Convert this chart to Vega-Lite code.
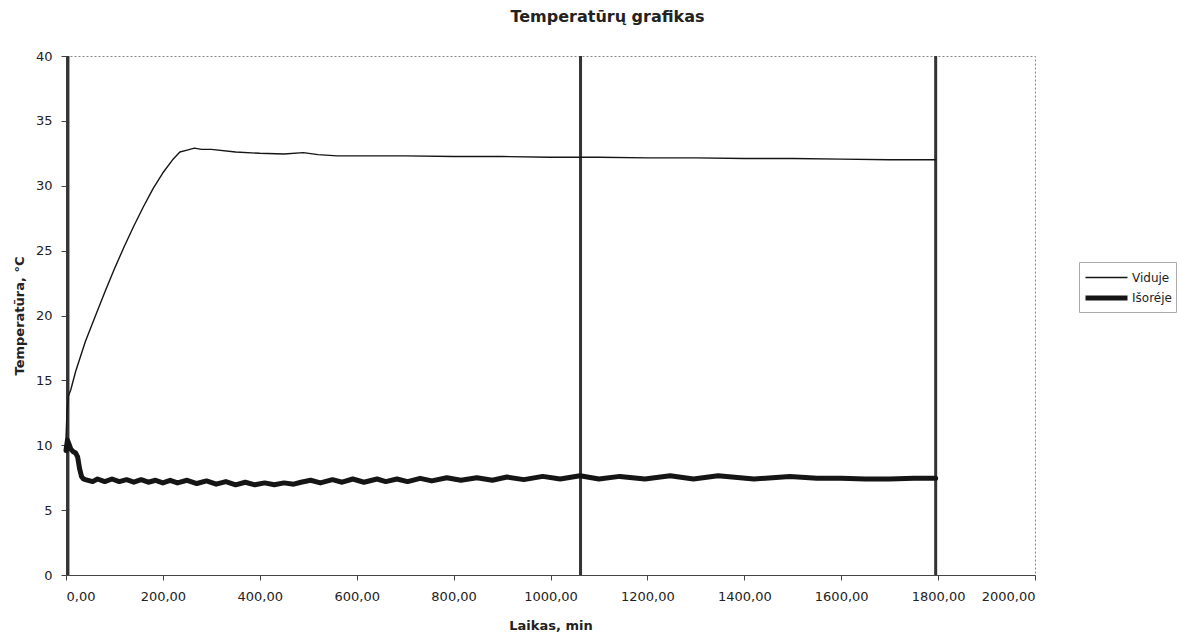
{
  "$schema": "https://vega.github.io/schema/vega-lite/v6.json",
  "autosize": {"type": "none"},
  "padding": {"left": 66, "top": 56, "right": 145, "bottom": 59},
  "width": 969,
  "height": 519,
  "background": "white",
  "config": {
    "font": "DejaVu Sans",
    "view": {"stroke": "#888", "strokeDash": [2, 2], "strokeWidth": 1},
    "axis": {
      "grid": false,
      "domainColor": "#444",
      "tickColor": "#444",
      "tickSize": 5,
      "labelFont": "DejaVu Sans",
      "labelFontSize": 13,
      "labelColor": "#222",
      "titleFont": "DejaVu Sans",
      "titleFontSize": 13,
      "titleFontWeight": "bold",
      "titleColor": "#222"
    }
  },
  "title": {
    "text": "Temperatūrų grafikas",
    "font": "DejaVu Sans",
    "fontSize": 16,
    "fontWeight": "bold",
    "color": "#222",
    "anchor": "middle",
    "dx": 57,
    "offset": 25
  },
  "datasets": {
    "temps": [
      {"series": "Viduje", "t": 0, "v": 10.5},
      {"series": "Viduje", "t": 2, "v": 12.5},
      {"series": "Viduje", "t": 5, "v": 13.8},
      {"series": "Viduje", "t": 10, "v": 14.3},
      {"series": "Viduje", "t": 20, "v": 15.7},
      {"series": "Viduje", "t": 40, "v": 18.0},
      {"series": "Viduje", "t": 60, "v": 19.9},
      {"series": "Viduje", "t": 80, "v": 21.8},
      {"series": "Viduje", "t": 100, "v": 23.6},
      {"series": "Viduje", "t": 120, "v": 25.3},
      {"series": "Viduje", "t": 140, "v": 26.9},
      {"series": "Viduje", "t": 160, "v": 28.4},
      {"series": "Viduje", "t": 180, "v": 29.8},
      {"series": "Viduje", "t": 200, "v": 31.0},
      {"series": "Viduje", "t": 220, "v": 32.0},
      {"series": "Viduje", "t": 235, "v": 32.6},
      {"series": "Viduje", "t": 250, "v": 32.75},
      {"series": "Viduje", "t": 265, "v": 32.9},
      {"series": "Viduje", "t": 280, "v": 32.8},
      {"series": "Viduje", "t": 300, "v": 32.8},
      {"series": "Viduje", "t": 350, "v": 32.6},
      {"series": "Viduje", "t": 400, "v": 32.5},
      {"series": "Viduje", "t": 450, "v": 32.45},
      {"series": "Viduje", "t": 490, "v": 32.55},
      {"series": "Viduje", "t": 520, "v": 32.4},
      {"series": "Viduje", "t": 560, "v": 32.3},
      {"series": "Viduje", "t": 600, "v": 32.3},
      {"series": "Viduje", "t": 700, "v": 32.3},
      {"series": "Viduje", "t": 800, "v": 32.25},
      {"series": "Viduje", "t": 900, "v": 32.25},
      {"series": "Viduje", "t": 1000, "v": 32.2},
      {"series": "Viduje", "t": 1060, "v": 32.2},
      {"series": "Viduje", "t": 1100, "v": 32.2},
      {"series": "Viduje", "t": 1200, "v": 32.15},
      {"series": "Viduje", "t": 1300, "v": 32.15},
      {"series": "Viduje", "t": 1400, "v": 32.1},
      {"series": "Viduje", "t": 1500, "v": 32.1},
      {"series": "Viduje", "t": 1600, "v": 32.05},
      {"series": "Viduje", "t": 1700, "v": 32.0},
      {"series": "Viduje", "t": 1795, "v": 32.0},
      {"series": "Išoréje", "t": 0, "v": 9.6},
      {"series": "Išoréje", "t": 3, "v": 10.4},
      {"series": "Išoréje", "t": 6, "v": 10.1},
      {"series": "Išoréje", "t": 10, "v": 9.7},
      {"series": "Išoréje", "t": 15, "v": 9.5},
      {"series": "Išoréje", "t": 20, "v": 9.4},
      {"series": "Išoréje", "t": 24, "v": 9.1},
      {"series": "Išoréje", "t": 28, "v": 8.2},
      {"series": "Išoréje", "t": 32, "v": 7.6},
      {"series": "Išoréje", "t": 36, "v": 7.4},
      {"series": "Išoréje", "t": 40, "v": 7.35},
      {"series": "Išoréje", "t": 55, "v": 7.2},
      {"series": "Išoréje", "t": 65, "v": 7.4},
      {"series": "Išoréje", "t": 80, "v": 7.2},
      {"series": "Išoréje", "t": 95, "v": 7.4},
      {"series": "Išoréje", "t": 110, "v": 7.2},
      {"series": "Išoréje", "t": 125, "v": 7.35},
      {"series": "Išoréje", "t": 140, "v": 7.15},
      {"series": "Išoréje", "t": 155, "v": 7.35},
      {"series": "Išoréje", "t": 170, "v": 7.15},
      {"series": "Išoréje", "t": 185, "v": 7.3},
      {"series": "Išoréje", "t": 200, "v": 7.1},
      {"series": "Išoréje", "t": 215, "v": 7.3},
      {"series": "Išoréje", "t": 230, "v": 7.1},
      {"series": "Išoréje", "t": 250, "v": 7.3},
      {"series": "Išoréje", "t": 270, "v": 7.05},
      {"series": "Išoréje", "t": 290, "v": 7.25},
      {"series": "Išoréje", "t": 310, "v": 7.0},
      {"series": "Išoréje", "t": 330, "v": 7.2},
      {"series": "Išoréje", "t": 350, "v": 6.95},
      {"series": "Išoréje", "t": 370, "v": 7.15},
      {"series": "Išoréje", "t": 390, "v": 6.95},
      {"series": "Išoréje", "t": 410, "v": 7.1},
      {"series": "Išoréje", "t": 430, "v": 6.95},
      {"series": "Išoréje", "t": 450, "v": 7.1},
      {"series": "Išoréje", "t": 470, "v": 7.0},
      {"series": "Išoréje", "t": 485, "v": 7.15},
      {"series": "Išoréje", "t": 505, "v": 7.3},
      {"series": "Išoréje", "t": 525, "v": 7.1},
      {"series": "Išoréje", "t": 550, "v": 7.35},
      {"series": "Išoréje", "t": 570, "v": 7.15},
      {"series": "Išoréje", "t": 592, "v": 7.4},
      {"series": "Išoréje", "t": 615, "v": 7.15},
      {"series": "Išoréje", "t": 642, "v": 7.4},
      {"series": "Išoréje", "t": 660, "v": 7.2},
      {"series": "Išoréje", "t": 683, "v": 7.4},
      {"series": "Išoréje", "t": 705, "v": 7.2},
      {"series": "Išoréje", "t": 731, "v": 7.45},
      {"series": "Išoréje", "t": 755, "v": 7.25},
      {"series": "Išoréje", "t": 786, "v": 7.5},
      {"series": "Išoréje", "t": 815, "v": 7.3},
      {"series": "Išoréje", "t": 848, "v": 7.5},
      {"series": "Išoréje", "t": 880, "v": 7.3},
      {"series": "Išoréje", "t": 910, "v": 7.55},
      {"series": "Išoréje", "t": 945, "v": 7.35},
      {"series": "Išoréje", "t": 984, "v": 7.6},
      {"series": "Išoréje", "t": 1020, "v": 7.4},
      {"series": "Išoréje", "t": 1061, "v": 7.65},
      {"series": "Išoréje", "t": 1100, "v": 7.4},
      {"series": "Išoréje", "t": 1143, "v": 7.6},
      {"series": "Išoréje", "t": 1195, "v": 7.4},
      {"series": "Išoréje", "t": 1247, "v": 7.65},
      {"series": "Išoréje", "t": 1295, "v": 7.4},
      {"series": "Išoréje", "t": 1346, "v": 7.65},
      {"series": "Išoréje", "t": 1420, "v": 7.4},
      {"series": "Išoréje", "t": 1494, "v": 7.6},
      {"series": "Išoréje", "t": 1550, "v": 7.45},
      {"series": "Išoréje", "t": 1600, "v": 7.45},
      {"series": "Išoréje", "t": 1650, "v": 7.4},
      {"series": "Išoréje", "t": 1700, "v": 7.4},
      {"series": "Išoréje", "t": 1750, "v": 7.45},
      {"series": "Išoréje", "t": 1795, "v": 7.45}
    ],
    "markers": [
      {"t": 4},
      {"t": 1062},
      {"t": 1795}
    ]
  },
  "layer": [
    {
      "data": {"name": "markers"},
      "mark": {"type": "rule", "color": "#333", "strokeWidth": 3},
      "encoding": {
        "x": {"field": "t", "type": "quantitative"}
      }
    },
    {
      "data": {"name": "temps"},
      "mark": {"type": "line", "color": "#151515", "strokeJoin": "round", "strokeCap": "round"},
      "encoding": {
        "x": {
          "field": "t",
          "type": "quantitative",
          "scale": {"domain": [0, 2000], "nice": false},
          "axis": {
            "title": "Laikas, min",
            "values": [0, 200, 400, 600, 800, 1000, 1200, 1400, 1600, 1800, 2000],
            "labelExpr": "replace(format(datum.value, '.2f'), '.', ',')",
            "labelPadding": 10,
            "titlePadding": 16
          }
        },
        "y": {
          "field": "v",
          "type": "quantitative",
          "scale": {"domain": [0, 40], "nice": false},
          "axis": {
            "title": "Temperatūra, °C",
            "values": [0, 5, 10, 15, 20, 25, 30, 35, 40],
            "labelPadding": 9,
            "titlePadding": 9
          }
        },
        "detail": {"field": "series"},
        "strokeWidth": {
          "field": "series",
          "type": "nominal",
          "sort": ["Viduje", "Išoréje"],
          "scale": {"domain": ["Viduje", "Išoréje"], "range": [1.4, 5]},
          "legend": {
            "title": null,
            "orient": "none",
            "legendX": 1013,
            "legendY": 206,
            "symbolType": "M-1,0L3,0",
            "symbolSize": 441,
            "symbolStrokeColor": "#151515",
            "labelFont": "DejaVu Sans",
            "labelFontSize": 12,
            "labelColor": "#222",
            "labelOffset": 23,
            "rowPadding": 1,
            "padding": 4,
            "strokeColor": "#aaa",
            "fillColor": "white"
          }
        }
      }
    }
  ]
}
